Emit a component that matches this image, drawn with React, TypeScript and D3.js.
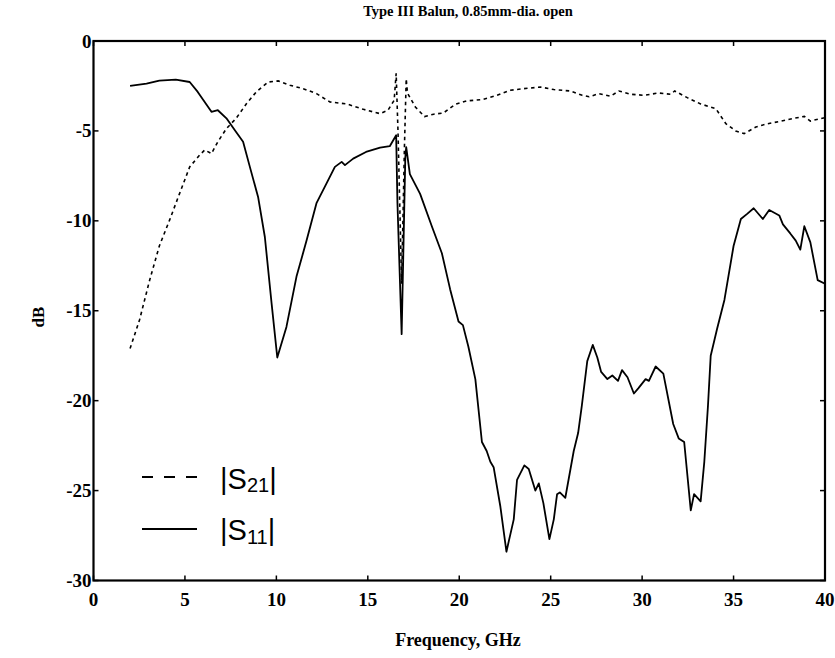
import React from "react";
import * as d3 from "d3";

const title = "Type III Balun, 0.85mm-dia. open";
const xLabel = "Frequency, GHz";
const yLabel = "dB";
const xTicks = [0, 5, 10, 15, 20, 25, 30, 35, 40];
const yTicks = [0, -5, -10, -15, -20, -25, -30];

const s11Freq = [2.0, 2.9, 3.6, 4.5, 5.26, 5.7, 6.27, 6.45, 6.8, 7.27, 7.73, 8.18, 8.55, 9.0, 9.37, 9.74, 10.05, 10.55, 11.1, 11.65, 12.2, 12.75, 13.2, 13.57, 13.75, 14.2, 14.9, 15.67, 16.2, 16.55, 16.62, 16.85, 17.05, 17.1, 17.3, 17.86, 18.5, 19.05, 19.5, 19.96, 20.2, 20.5, 20.88, 21.24, 21.5, 21.7, 21.88, 22.25, 22.58, 22.98, 23.16, 23.56, 23.8, 24.16, 24.35, 24.6, 24.93, 25.17, 25.35, 25.5, 25.8, 26.26, 26.5, 26.7, 27.0, 27.3, 27.55, 27.76, 28.1, 28.37, 28.68, 28.9, 29.2, 29.55, 29.8, 30.19, 30.37, 30.74, 31.16, 31.7, 32.0, 32.3, 32.66, 32.84, 33.2, 33.4, 33.6, 33.75, 34.1, 34.5, 35.0, 35.4, 35.76, 36.1, 36.6, 36.95, 37.5, 37.7, 38.1, 38.4, 38.65, 38.87, 39.2, 39.6, 40.0];
const s11Db = [-2.5, -2.37, -2.2, -2.15, -2.28, -2.83, -3.67, -3.94, -3.85, -4.3, -4.96, -5.6, -7.0, -8.67, -10.9, -14.6, -17.6, -15.9, -13.1, -11.1, -9.0, -7.9, -7.0, -6.72, -6.9, -6.54, -6.17, -5.93, -5.85, -5.24, -9.0, -16.3, -6.5, -5.9, -7.4, -8.5, -10.3, -11.8, -13.8, -15.6, -15.8, -17.0, -18.8, -22.3, -22.8, -23.4, -23.7, -25.9, -28.4, -26.6, -24.4, -23.6, -23.8, -25.0, -24.6, -25.7, -27.7, -26.6, -25.2, -25.1, -25.4, -22.8, -21.8, -20.3, -17.8, -16.9, -17.6, -18.4, -18.8, -18.6, -18.9, -18.3, -18.7, -19.6, -19.3, -18.8, -18.9, -18.1, -18.5, -21.3, -22.1, -22.3, -26.1, -25.2, -25.6, -23.4, -20.3, -17.5, -16.0, -14.4, -11.4, -9.9, -9.6, -9.3, -9.9, -9.4, -9.7, -10.2, -10.7, -11.1, -11.6, -10.3, -11.2, -13.3, -13.5];

const s21Freq = [2.0, 2.52, 3.07, 3.6, 4.16, 4.7, 5.26, 5.8, 6.08, 6.45, 6.8, 7.27, 7.8, 8.37, 8.9, 9.55, 10.1, 10.74, 11.47, 12.2, 12.93, 13.85, 14.76, 15.67, 16.1, 16.44, 16.55, 16.65, 16.85, 17.0, 17.1, 17.17, 17.6, 18.1, 18.6, 19.14, 19.78, 20.4, 21.24, 22.07, 22.8, 23.53, 24.44, 25.17, 26.08, 26.72, 27.1, 27.63, 28.27, 28.73, 29.37, 30.1, 30.9, 31.56, 31.78, 32.47, 33.2, 34.03, 34.58, 35.12, 35.58, 36.22, 36.86, 37.6, 38.3, 38.87, 39.2, 40.0];
const s21Db = [-17.1, -15.5, -13.3, -11.4, -9.96, -8.5, -7.0, -6.35, -6.06, -6.26, -5.6, -4.87, -4.3, -3.48, -2.83, -2.28, -2.22, -2.46, -2.65, -2.93, -3.39, -3.5, -3.8, -4.04, -3.85, -3.3, -1.8, -5.0, -13.5, -6.0, -2.1, -2.9, -3.67, -4.2, -4.07, -4.0, -3.52, -3.33, -3.26, -3.02, -2.74, -2.65, -2.56, -2.7, -2.78, -3.02, -3.1, -2.93, -3.07, -2.78, -2.96, -3.02, -2.89, -2.96, -2.78, -3.15, -3.5, -3.76, -4.6, -5.0, -5.15, -4.78, -4.6, -4.46, -4.3, -4.19, -4.45, -4.26];

const W = 835;
const H = 658;
const left = 93.5;
const right = 825;
const top = 41;
const bottom = 580.5;

export default function App() {
  const x = d3.scaleLinear().domain([0, 40]).range([left, right]);
  const y = d3.scaleLinear().domain([-30, 0]).range([bottom, top]);
  const line = d3
    .line<[number, number]>()
    .x((d) => x(d[0]))
    .y((d) => y(d[1]));
  const s11 = s11Freq.map((f, i) => [f, s11Db[i]] as [number, number]);
  const s21 = s21Freq.map((f, i) => [f, s21Db[i]] as [number, number]);
  const serif = "'Liberation Serif', 'Times New Roman', serif";
  const sans = "'Liberation Sans', Arial, sans-serif";
  const tl = 5;

  return (
    <svg
      width={W}
      height={H}
      style={{ position: "absolute", left: 0, top: 0, background: "#fff" }}
    >
      <rect x={0} y={0} width={W} height={H} fill="#fff" />
      <text x={468} y={16} textAnchor="middle" fontFamily={serif} fontWeight="bold" fontSize={14.5} fill="#000">
        {title}
      </text>

      {/* data lines */}
      <path d={line(s21) || ""} fill="none" stroke="#000" strokeWidth={1.6} strokeDasharray="3.5,3.5" />
      <path d={line(s11) || ""} fill="none" stroke="#000" strokeWidth={1.8} strokeLinejoin="round" />

      {/* frame */}
      <rect x={left} y={top} width={right - left} height={bottom - top} fill="none" stroke="#000" strokeWidth={2.2} />

      {/* x ticks */}
      {xTicks.map((t) => (
        <g key={"x" + t}>
          <line x1={x(t)} x2={x(t)} y1={bottom} y2={bottom - tl} stroke="#000" strokeWidth={1.5} />
          <line x1={x(t)} x2={x(t)} y1={top} y2={top + tl} stroke="#000" strokeWidth={1.5} />
          <text x={x(t)} y={606} textAnchor="middle" fontFamily={serif} fontWeight="bold" fontSize={19} fill="#000">
            {t}
          </text>
        </g>
      ))}

      {/* y ticks */}
      {yTicks.map((t) => (
        <g key={"y" + t}>
          <line x1={left} x2={left + tl} y1={y(t)} y2={y(t)} stroke="#000" strokeWidth={1.5} />
          <line x1={right} x2={right - tl} y1={y(t)} y2={y(t)} stroke="#000" strokeWidth={1.5} />
          <text x={left - 2} y={y(t) + 6.5} textAnchor="end" fontFamily={serif} fontWeight="bold" fontSize={19} fill="#000">
            {t}
          </text>
        </g>
      ))}

      <text x={458} y={646} textAnchor="middle" fontFamily={serif} fontWeight="bold" fontSize={18} fill="#000">
        {xLabel}
      </text>
      <text
        transform={`translate(44, 317) rotate(-90)`}
        textAnchor="middle"
        fontFamily={serif}
        fontWeight="bold"
        fontSize={17}
        fill="#000"
      >
        {yLabel}
      </text>

      {/* legend */}
      <line x1={142} x2={197} y1={477} y2={477} stroke="#000" strokeWidth={2} strokeDasharray="11,11" />
      <text x={220} y={489} fontFamily={sans} fontSize={29} fill="#000">
        |S<tspan fontSize={20} dy={3}>21</tspan><tspan dy={-3}>|</tspan>
      </text>
      <line x1={142} x2={197} y1={529} y2={529} stroke="#000" strokeWidth={2} />
      <text x={220} y={540} fontFamily={sans} fontSize={29} fill="#000">
        |S<tspan fontSize={20} dy={4}>11</tspan><tspan dy={-4}>|</tspan>
      </text>
    </svg>
  );
}
